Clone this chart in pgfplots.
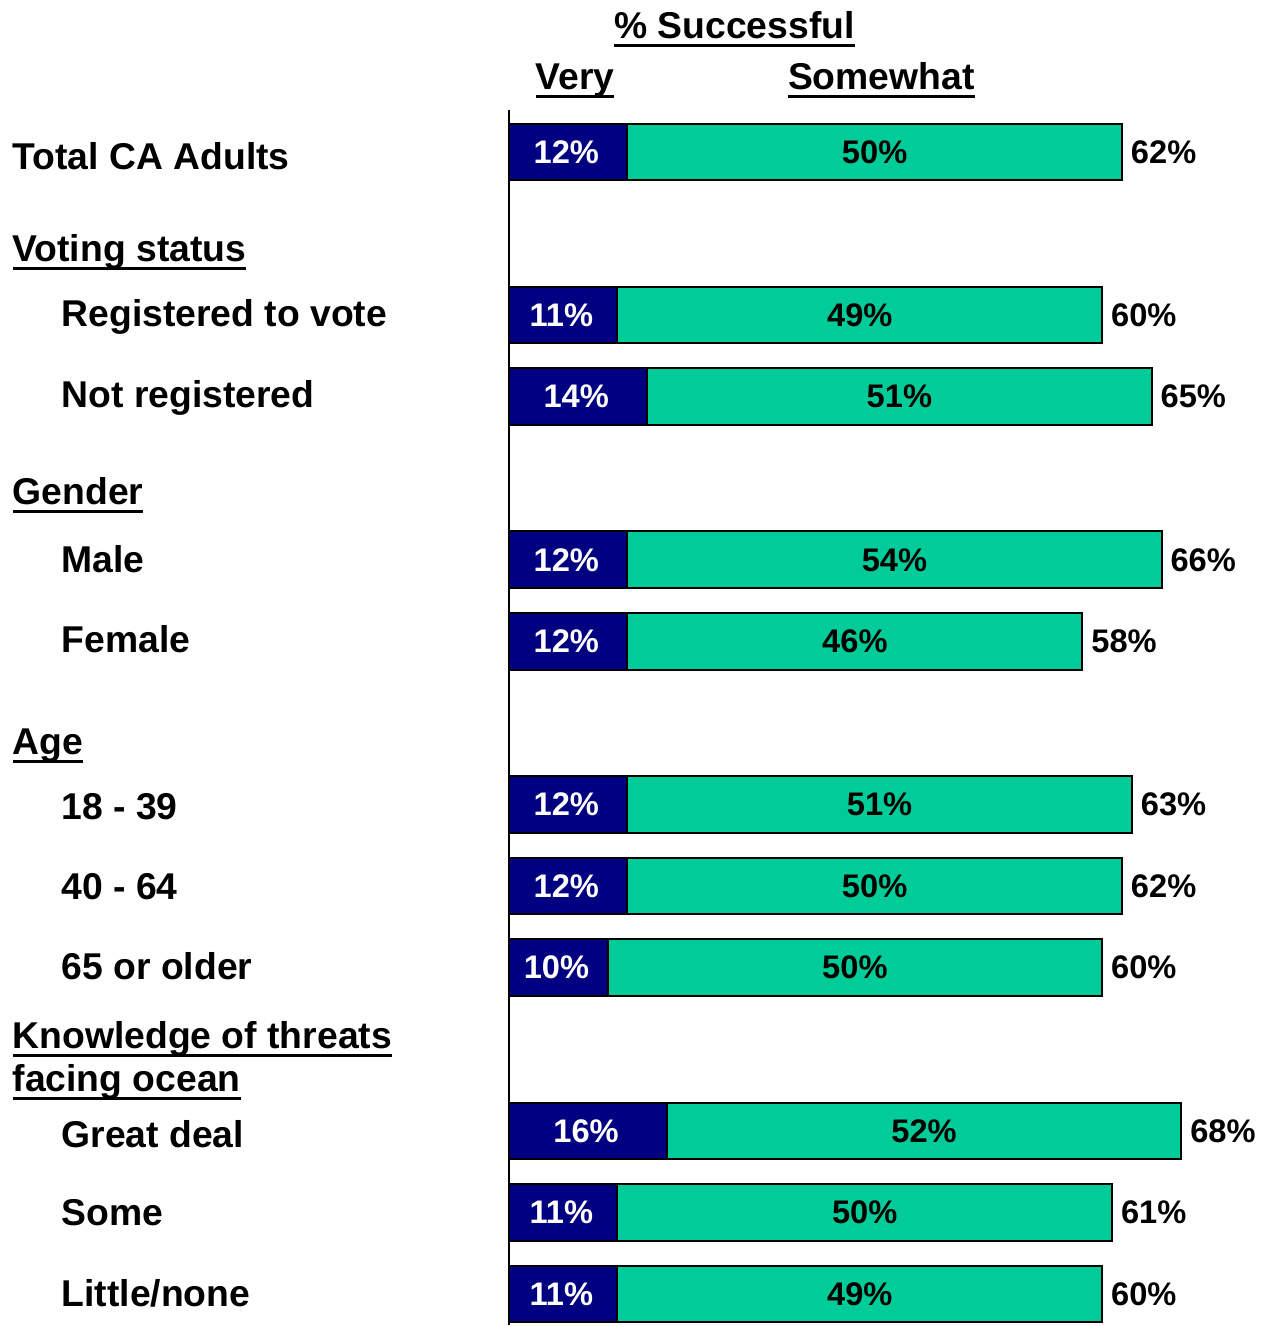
\documentclass[border=0pt]{standalone}
\usepackage{fontspec}
\setmainfont{Liberation Sans}
\usepackage{pgfplots}
\usepackage{pgfplotstable}
\pgfplotsset{compat=1.18}
\definecolor{navy}{RGB}{0,0,128}
\definecolor{sea}{RGB}{0,204,153}
\newsavebox\ulbox
\newcommand\ul[1]{\sbox\ulbox{#1}\rlap{\rule[-2.5pt]{\wd\ulbox}{0.9pt}}\usebox\ulbox}
\newcommand\lf{\fontsize{11.2}{13}\selectfont\bfseries}
\pgfplotstableread{
pos very some total
0  12 50 62
2  11 49 60
3  14 51 65
5  12 54 66
6  12 46 58
8  12 51 63
9  12 50 62
10 10 50 60
12 16 52 68
13 11 50 61
14 11 49 60
}\data
\begin{document}
\begin{tikzpicture}
\path (0pt,0pt) rectangle (380.7pt,-397.8pt);
\begin{axis}[at={(152.7pt,-33pt)}, anchor=north west, scale only axis,
  width=228pt, height=364.8pt,
  xmin=0, xmax=76.77, ymin=-0.5145, ymax=14.380, y dir=reverse,
  axis x line=none, axis y line*=left,
  axis line style={line width=0.6pt, black},
  xtick=\empty, ytick=\empty, clip=false,
  /pgf/number format/assume math mode=true,
  every node near coord/.append style={font=\fontsize{9.8}{11}\selectfont\bfseries, inner sep=0pt}]
\addplot[xbar, bar width=17pt, bar shift=0pt, fill=sea, draw=black, line width=0.6pt] table[x=total,y=pos]{\data};
\addplot[xbar, bar width=17pt, bar shift=0pt, fill=navy, draw=black, line width=0.6pt] table[x=very,y=pos]{\data};
\addplot[only marks, mark=none, point meta=explicit,
  nodes near coords={\pgfmathprintnumber{\pgfplotspointmeta}\%},
  every node near coord/.append style={anchor=center, xshift=-0.5pt, text=white}]
  table[x expr=\thisrow{very}/2, y=pos, meta=very]{\data};
\addplot[only marks, mark=none, point meta=explicit,
  nodes near coords={\pgfmathprintnumber{\pgfplotspointmeta}\%},
  every node near coord/.append style={anchor=center, text=black}]
  table[x expr=\thisrow{very}+\thisrow{some}/2, y=pos, meta=some]{\data};
\addplot[only marks, mark=none, point meta=explicit,
  nodes near coords={\pgfmathprintnumber{\pgfplotspointmeta}\%},
  every node near coord/.append style={anchor=west, xshift=2.5pt, text=black}]
  table[x=total, y=pos, meta=total]{\data};
\end{axis}
\begin{scope}[every node/.style={inner sep=0pt, font=\lf}]
\node[anchor=base] at (220.5pt,-11.7pt) {\ul{\% Successful}};
\node[anchor=base] at (172.65pt,-27.0pt) {\ul{Very}};
\node[anchor=base] at (264.6pt,-27.0pt) {\ul{Somewhat}};
\node[anchor=base west] at (3.6pt,-51.0pt) {Total CA Adults};
\node[anchor=base west] at (3.6pt,-78.6pt) {\ul{Voting status}};
\node[anchor=base west] at (18.3pt,-98.1pt) {Registered to vote};
\node[anchor=base west] at (18.3pt,-122.4pt) {Not registered};
\node[anchor=base west] at (3.6pt,-151.5pt) {\ul{Gender}};
\node[anchor=base west] at (18.3pt,-171.9pt) {Male};
\node[anchor=base west] at (18.3pt,-195.9pt) {Female};
\node[anchor=base west] at (3.6pt,-226.5pt) {\ul{Age}};
\node[anchor=base west] at (18.3pt,-246.0pt) {18 - 39};
\node[anchor=base west] at (18.3pt,-270.0pt) {40 - 64};
\node[anchor=base west] at (18.3pt,-294.0pt) {65 or older};
\node[anchor=base west] at (3.6pt,-314.7pt) {\ul{Knowledge of threats}};
\node[anchor=base west] at (3.6pt,-327.6pt) {\ul{facing ocean}};
\node[anchor=base west] at (18.3pt,-344.4pt) {Great deal};
\node[anchor=base west] at (18.3pt,-367.8pt) {Some};
\node[anchor=base west] at (18.3pt,-392.1pt) {Little/none};
\end{scope}
\end{tikzpicture}
\end{document}
